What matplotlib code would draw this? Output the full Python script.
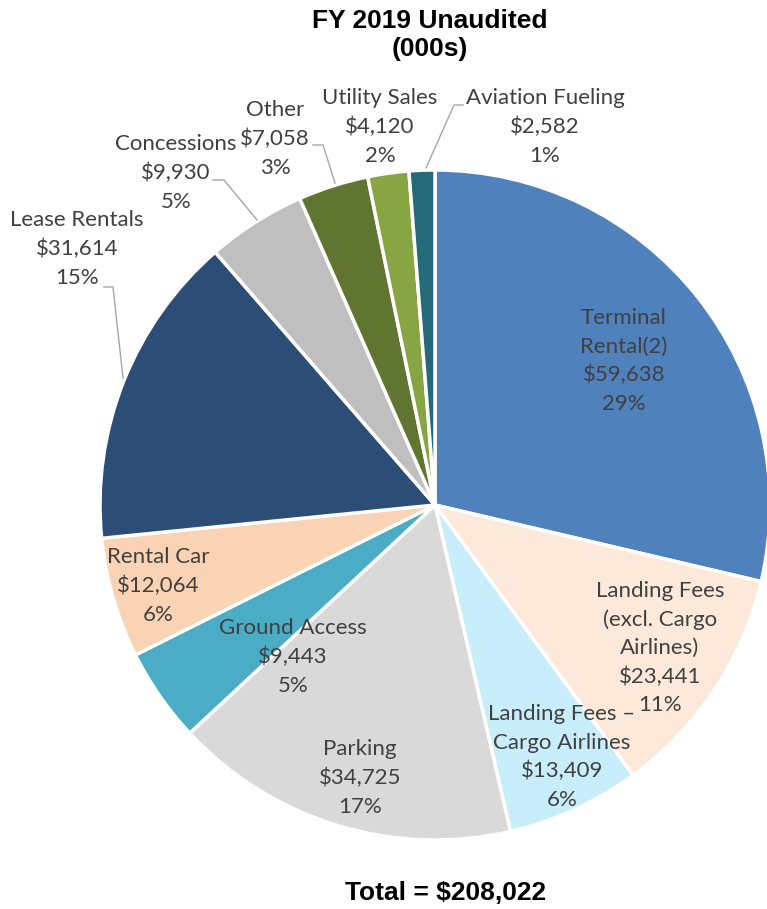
import matplotlib
matplotlib.use("Agg")
import matplotlib.pyplot as plt

# FY 2019 revenue by source, $000s (clockwise from 12 o'clock)
categories = [
    "Terminal\nRental(2)",
    "Landing Fees\n(excl. Cargo\nAirlines)",
    "Landing Fees \u2013\nCargo Airlines",
    "Parking",
    "Ground Access",
    "Rental Car",
    "Lease Rentals",
    "Concessions",
    "Other",
    "Utility Sales",
    "Aviation Fueling",
]
values = [59638, 23441, 13409, 34725, 9443, 12064, 31614, 9930, 7058, 4120, 2582]
percents = ["29%", "11%", "6%", "17%", "5%", "6%", "15%", "5%", "3%", "2%", "1%"]
colors = [
    "#4F81BD", "#FDE9D9", "#C9EEFB", "#D9D9D9", "#4BACC6", "#FAD3B4",
    "#2C4D75", "#BFBFBF", "#5F7530", "#87A543", "#246A78",
]
total_label = "Total = $208,022"

W, H = 767, 909
cx, cy, R = 435, 505, 335  # pie centre / radius in pixels

# label centres in pixels (x, y)
label_pos = [
    (624, 361), (660, 648), (562, 757), (360, 778), (293, 657), (158, 586),
    (77, 249), (176, 173), (275, 139), (380, 127), (545, 127),
]
# leader lines in pixels
leaders = [
    [(104, 287), (113, 287), (123, 378)],
    [(213, 180), (224, 180), (257, 220)],
    [(313, 145), (323, 145), (335, 183)],
    [(463, 105), (454, 105), (426, 168)],
]


def px(x, y):
    return (x - cx) / R, (cy - y) / R


fig = plt.figure(figsize=(W / 100, H / 100), dpi=100)
ax = fig.add_axes([(cx - R) / W, (H - cy - R) / H, 2 * R / W, 2 * R / H])
ax.pie(
    values,
    colors=colors,
    startangle=90,
    counterclock=False,
    radius=1,
    wedgeprops=dict(edgecolor="white", linewidth=2.5),
)
ax.set_xlim(-1, 1)
ax.set_ylim(-1, 1)
ax.set_aspect("auto")
ax.axis("off")

for lines in leaders:
    pts = [px(x, y) for x, y in lines]
    ax.plot([p[0] for p in pts], [p[1] for p in pts], color="#A6A6A6",
            lw=1.0, clip_on=False)

for name, val, pct, (x, y) in zip(categories, values, percents, label_pos):
    txt = f"{name}\n${val:,}\n{pct}"
    lx, ly = px(x, y)
    ax.text(lx, ly, txt, ha="center", va="center", fontsize=16,
            family="Lato", color="#404040", linespacing=1.52, clip_on=False)

fig.text(430 / W, 1 - 35 / H, "FY 2019 Unaudited\n(000s)", ha="center",
         va="center", fontsize=19, fontweight="bold",
         family="Liberation Sans", linespacing=1.25)
fig.text(446 / W, 1 - 893 / H, total_label, ha="center", va="center",
         fontsize=19, fontweight="bold", family="Liberation Sans")

fig.savefig("out.png", dpi=100)
